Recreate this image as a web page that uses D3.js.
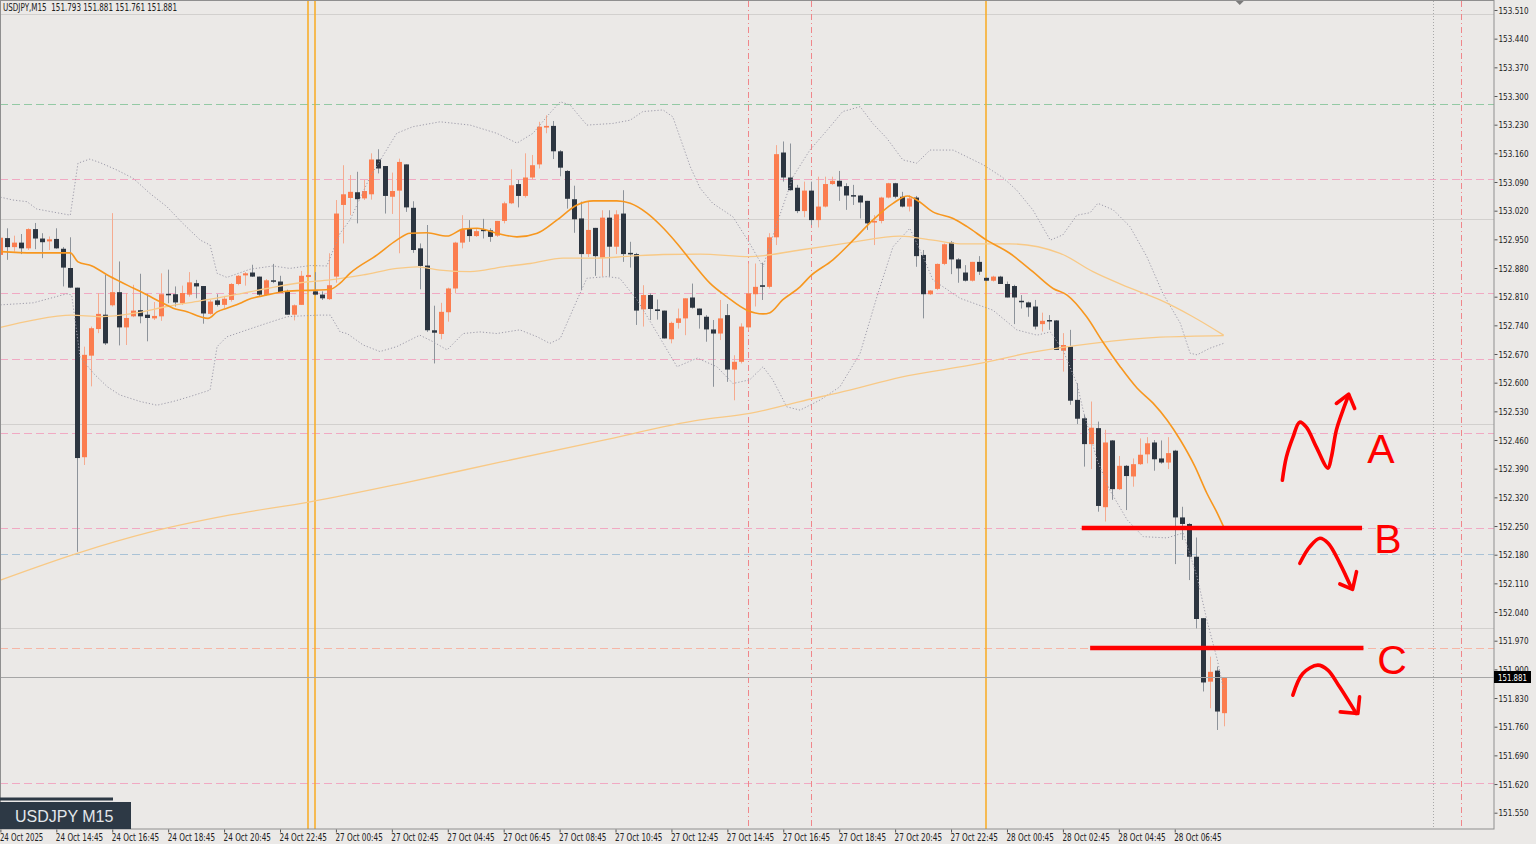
<!DOCTYPE html>
<html>
<head>
<meta charset="utf-8">
<script src="https://cdn.jsdelivr.net/npm/d3@7"></script>
<style>
  body { margin: 0; background: #ebe9e7; overflow: hidden; }
  text { font-family: "Liberation Sans Narrow", "DejaVu Sans Condensed", "Roboto Condensed", sans-serif; }
</style>
</head>
<body>
<div id="chart"></div>
<script>
// ---- data (bar 0 = 24 Oct 12:45) ----
var opens = [152.912,152.953,152.931,152.942,152.928,152.975,152.952,152.945,152.951,152.927,
152.880,152.832,152.418,152.666,152.731,152.766,152.789,152.821,152.735,152.762,
152.777,152.766,152.757,152.762,152.817,152.816,152.794,152.815,152.843,152.836,
152.768,152.801,152.790,152.802,152.841,152.862,152.869,152.859,152.814,152.850,
152.847,152.823,152.766,152.790,152.858,152.823,152.815,152.804,152.859,153.034,
153.051,153.065,153.050,153.060,153.145,153.129,153.054,153.069,153.133,153.027,
152.928,152.886,152.728,152.719,152.772,152.830,152.942,152.975,152.958,152.974,
152.972,152.959,152.995,153.038,153.085,153.056,153.101,153.133,153.223,153.227,
153.165,153.117,153.048,153.001,152.914,152.978,152.905,153.003,152.932,153.013,
152.917,152.914,152.779,152.814,152.779,152.776,152.706,152.746,152.757,152.808,
152.781,152.761,152.730,152.720,152.765,152.632,152.651,152.735,152.816,152.838,
152.834,152.955,153.162,153.101,153.076,153.019,153.069,152.997,153.030,153.085,
153.093,153.080,153.058,153.057,153.044,152.991,152.995,153.052,153.087,153.054,
153.030,153.052,152.912,152.816,152.829,152.890,152.942,152.901,152.869,152.849,
152.895,152.856,152.849,152.859,152.841,152.836,152.800,152.796,152.786,152.743,
152.753,152.752,152.678,152.688,152.558,152.513,152.450,152.489,152.296,152.459,
152.340,152.397,152.371,152.401,152.425,152.454,152.415,152.405,152.434,152.271,
152.255,152.175,152.025,151.870,151.897,151.793];

var highs = [152.957,152.977,152.959,152.963,152.977,152.990,152.965,152.957,152.977,152.931,
152.955,152.832,152.688,152.737,152.819,152.863,153.014,152.896,152.819,152.839,
152.866,152.817,152.797,152.867,152.876,152.835,152.837,152.870,152.851,152.836,
152.802,152.816,152.812,152.843,152.863,152.870,152.888,152.859,152.853,152.890,
152.861,152.827,152.791,152.873,152.867,152.870,152.823,152.916,153.046,153.131,
153.107,153.115,153.095,153.160,153.170,153.129,153.113,153.147,153.133,153.043,
152.940,152.985,152.788,152.795,152.832,152.944,153.009,152.997,152.977,153.000,
152.977,152.995,153.042,153.121,153.095,153.160,153.156,153.237,153.253,153.239,
153.168,153.119,153.081,153.042,153.042,152.978,153.021,153.021,153.021,153.070,
152.944,152.917,152.838,152.818,152.803,152.776,152.749,152.781,152.806,152.842,
152.781,152.765,152.753,152.802,152.792,152.667,152.745,152.891,152.891,152.893,
152.965,153.180,153.189,153.184,153.083,153.091,153.091,153.103,153.103,153.103,
153.117,153.087,153.083,153.058,153.044,153.009,153.054,153.088,153.088,153.066,
153.058,153.056,152.924,152.826,152.891,152.940,152.946,152.904,152.887,152.895,
152.909,152.857,152.861,152.861,152.847,152.839,152.814,152.798,152.802,152.771,
152.765,152.753,152.721,152.729,152.599,152.521,152.554,152.505,152.485,152.460,
152.421,152.399,152.415,152.464,152.467,152.460,152.459,152.467,152.436,152.297,
152.257,152.222,152.025,151.931,151.907,151.881];

var lows = [152.908,152.900,152.920,152.914,152.924,152.926,152.904,152.924,152.927,152.835,
152.831,152.187,152.399,152.591,152.721,152.692,152.786,152.691,152.692,152.760,
152.745,152.701,152.753,152.751,152.794,152.786,152.790,152.810,152.806,152.744,
152.766,152.786,152.782,152.798,152.838,152.837,152.858,152.810,152.812,152.843,
152.819,152.766,152.752,152.790,152.858,152.813,152.802,152.802,152.844,152.940,
153.009,152.989,153.046,153.047,153.111,153.013,153.012,152.916,153.017,152.917,
152.828,152.724,152.647,152.706,152.749,152.818,152.928,152.944,152.956,152.952,
152.944,152.956,152.989,153.036,153.028,153.052,153.096,153.123,153.209,153.146,
153.104,153.025,152.966,152.826,152.907,152.861,152.859,152.859,152.914,152.895,
152.881,152.741,152.737,152.753,152.754,152.708,152.696,152.732,152.716,152.781,
152.732,152.700,152.590,152.704,152.602,152.557,152.647,152.729,152.786,152.802,
152.830,152.936,153.091,153.069,153.014,153.004,152.985,152.979,153.028,153.083,
153.044,153.022,153.034,153.001,152.973,152.936,152.989,153.050,153.050,153.028,
153.018,152.883,152.757,152.814,152.826,152.887,152.865,152.844,152.847,152.847,
152.863,152.848,152.847,152.841,152.808,152.743,152.781,152.761,152.730,152.725,
152.729,152.680,152.627,152.546,152.499,152.395,152.389,152.285,152.261,152.314,
152.338,152.289,152.346,152.399,152.403,152.385,152.402,152.389,152.157,152.216,
152.118,152.000,151.846,151.805,151.752,151.761];

var closes = [152.954,152.931,152.942,152.928,152.975,152.952,152.943,152.950,152.928,152.881,
152.832,152.416,152.668,152.733,152.768,152.696,152.821,152.735,152.758,152.776,
152.762,152.758,152.763,152.816,152.815,152.796,152.819,152.845,152.835,152.769,
152.798,152.790,152.805,152.841,152.861,152.867,152.859,152.815,152.850,152.847,
152.820,152.766,152.789,152.861,152.863,152.815,152.806,152.838,153.013,153.060,
153.066,153.048,153.068,153.145,153.123,153.056,153.068,153.139,153.028,152.924,
152.885,152.728,152.722,152.773,152.830,152.942,152.973,152.958,152.970,152.970,
152.956,152.995,153.038,153.082,153.056,153.101,153.131,153.225,153.227,153.165,
153.125,153.049,152.999,152.914,152.973,152.909,153.003,152.932,153.011,152.914,
152.915,152.776,152.814,152.780,152.775,152.708,152.746,152.757,152.806,152.783,
152.765,152.730,152.720,152.757,152.632,152.651,152.737,152.818,152.834,152.834,
152.955,153.158,153.101,153.070,153.019,153.069,152.997,153.030,153.085,153.093,
153.079,153.057,153.057,153.040,152.989,152.995,153.052,153.087,153.054,153.030,
153.050,152.909,152.816,152.825,152.890,152.938,152.901,152.879,152.849,152.895,
152.871,152.849,152.859,152.841,152.808,152.808,152.798,152.784,152.737,152.751,
152.751,152.680,152.692,152.556,152.512,152.450,152.490,152.299,152.454,152.340,
152.397,152.372,152.401,152.424,152.452,152.413,152.405,152.428,152.271,152.255,
152.175,152.023,151.868,151.894,151.797,151.881];

// indicator lines, [bar, price]
var ma20 = [[0,152.920],[4.7,152.917],[9,152.917],[10,152.917],[11.1,152.895],[13.1,152.885],[15.3,152.863],
  [17.1,152.847],[19,152.831],[21,152.814],[22.8,152.798],[24.7,152.782],[26.7,152.773],[28.6,152.761],
  [29.7,152.757],[31,152.773],[32.4,152.782],[34.3,152.794],[35.3,152.802],[38.1,152.814],[40.4,152.822],
  [42.9,152.825],[45.3,152.826],[47.2,152.828],[48.6,152.843],[50,152.867],[53.9,152.912],[56.7,152.948],
  [58.6,152.965],[61,152.966],[63.9,152.958],[66.2,152.975],[68.2,152.977],[71,152.965],[73.9,152.956],
  [76.8,152.965],[79.6,152.997],[82.5,153.034],[84.8,153.044],[88.2,153.044],[90.1,153.038],[92.5,153.014],
  [94.4,152.985],[96.8,152.940],[99.1,152.891],[101.5,152.843],[103.9,152.810],[106.8,152.777],[109.1,152.768],
  [110.1,152.771],[111.9,152.802],[114.4,152.834],[115.8,152.859],[119.1,152.900],[122,152.948],[124.8,152.997],
  [127.7,153.038],[129.8,153.056],[131.1,153.046],[133.4,153.017],[136.3,153.001],[138.3,152.981],[141.1,152.948],
  [144.4,152.916],[147.7,152.871],[150.6,152.830],[152.6,152.814],[155.4,152.761],[157.7,152.700],[160.2,152.639],
  [162.6,152.587],[164.9,152.550],[166.9,152.509],[168.8,152.460],[170.9,152.395],[172.6,152.330],[174.1,152.281],
  [175,152.248]];

var ma50 = [[0,152.735],[4.7,152.753],[10.2,152.765],[14.3,152.761],[19,152.769],[23.8,152.786],[28.6,152.800],
  [33.3,152.814],[38.1,152.830],[42.9,152.844],[47.2,152.851],[51.9,152.863],[56.7,152.879],[59.6,152.883],
  [62.9,152.875],[67.2,152.871],[71.9,152.883],[75.8,152.891],[80.5,152.904],[85.4,152.904],[90.1,152.909],
  [94.8,152.913],[100.1,152.914],[107.2,152.908],[114.4,152.924],[121.5,152.942],[128.7,152.958],[133.4,152.948],
  [137.3,152.939],[144.4,152.939],[151.6,152.916],[156.3,152.871],[161.2,152.834],[165.9,152.802],[170.6,152.761],
  [175,152.716]];

var ma200 = [[0,152.118],[11.1,152.184],[21.4,152.235],[32.9,152.277],[44.3,152.309],[57.2,152.353],[71.5,152.406],
  [85.8,152.458],[100.1,152.509],[107.2,152.525],[114.4,152.554],[121.5,152.582],[128.7,152.613],[140.1,152.647],
  [146.9,152.672],[156.3,152.696],[165.9,152.711],[175,152.715]];

var bbUpper = [[0,153.053],[1.8,153.046],[3.8,153.042],[5.2,153.024],[10,153.009],[11.1,153.136],[12.8,153.146],
  [14.3,153.137],[16.7,153.119],[19,153.099],[21.4,153.062],[23.8,153.030],[26.1,152.989],[28.6,152.948],
  [30,152.936],[31,152.867],[32.4,152.857],[35.7,152.877],[39,152.885],[41.4,152.879],[44.3,152.886],
  [46.7,152.885],[48.6,152.965],[50,152.997],[52.9,153.103],[56.7,153.209],[59,153.225],[62.9,153.237],
  [67.2,153.229],[71,153.209],[73.9,153.185],[76.2,153.209],[78.6,153.258],[80.1,153.286],[81.5,153.278],
  [83.9,153.229],[87.6,153.233],[90.1,153.241],[91.9,153.262],[94.8,153.266],[96.2,153.249],[98.7,153.127],
  [100.1,153.075],[101.9,153.038],[104.8,153.005],[107.2,152.940],[109.1,152.883],[111.1,152.989],[113.4,153.103],
  [115.8,153.168],[118.3,153.217],[120.5,153.262],[123,153.274],[124.8,153.233],[126.8,153.197],[129.1,153.144],
  [131.1,153.136],[133,153.168],[136.3,153.168],[140.6,153.132],[143.4,153.101],[145.4,153.070],[147.7,153.022],
  [150.2,152.948],[152,152.961],[154,153.009],[155.9,153.015],[157,153.038],[159.2,153.022],[161.6,152.981],
  [164,152.908],[166.3,152.818],[168.8,152.745],[170.2,152.672],[171.2,152.668],[173,152.684],[175,152.696]];

var bbLower = [[0,152.790],[4.7,152.795],[9.5,152.817],[10.2,152.814],[11.4,152.663],[13.3,152.623],[15.3,152.590],
  [17.1,152.570],[20,152.554],[22.4,152.545],[24.7,152.554],[27.1,152.566],[30,152.582],[31,152.688],
  [32.4,152.712],[35.3,152.729],[38.1,152.745],[41,152.761],[42.9,152.763],[45.7,152.765],[47.2,152.765],
  [48.6,152.724],[49.6,152.720],[51.9,152.692],[54.3,152.676],[56.7,152.688],[60,152.716],[61.9,152.700],
  [63.9,152.680],[66.2,152.720],[68.6,152.724],[71,152.720],[74.3,152.729],[76.8,152.712],[78.6,152.696],
  [80.1,152.708],[82.5,152.802],[83.9,152.855],[86.8,152.859],[88.6,152.855],[91.1,152.802],[93.4,152.737],
  [96.8,152.639],[99.7,152.660],[102.5,152.639],[104.8,152.598],[107.2,152.607],[109.1,152.639],[110.5,152.607],
  [112.5,152.541],[114.4,152.533],[117.3,152.558],[120.1,152.590],[123,152.672],[125.4,152.810],[127.7,152.932],
  [130.1,152.977],[132,152.908],[133.4,152.851],[137.3,152.806],[142,152.777],[145.4,152.729],[148.3,152.716],
  [150.2,152.724],[152,152.680],[154,152.598],[154.9,152.533],[156.9,152.411],[158.7,152.338],[161.2,152.265],
  [163.5,152.224],[166.9,152.221],[169.2,152.233],[171.2,152.126],[172.6,152.020],[174.1,151.923],[175,151.850]];

// axis labels
var priceTicks = [153.510,153.440,153.370,153.300,153.230,153.160,153.090,153.020,152.950,152.880,
  152.810,152.740,152.670,152.600,152.530,152.460,152.390,152.320,152.250,152.180,152.110,152.040,
  151.970,151.900,151.830,151.760,151.690,151.620,151.550];
var timeTickBars = [0,8,16,24,32,40,48,56,64,72,80,88,96,104,112,120,128,136,144,152,160,168];
var timeLabels = ["24 Oct 2025","24 Oct 14:45","24 Oct 16:45","24 Oct 18:45","24 Oct 20:45","24 Oct 22:45",
  "27 Oct 00:45","27 Oct 02:45","27 Oct 04:45","27 Oct 06:45","27 Oct 08:45","27 Oct 10:45","27 Oct 12:45",
  "27 Oct 14:45","27 Oct 16:45","27 Oct 18:45","27 Oct 20:45","27 Oct 22:45","28 Oct 00:45","28 Oct 02:45",
  "28 Oct 04:45","28 Oct 06:45"];

// horizontal levels and vertical markers
var roundLevels = [153.50, 153.00, 152.50, 152.00];
var levelPrices = [153.280, 153.097, 152.818, 152.657, 152.477, 152.244, 152.181, 151.952, 151.622];
var levelKinds  = ["green", "pink", "pink", "pink", "pink", "pink", "blue", "salmon", "pink"];
var daySepBars = [44, 45, 141];
var redMarkBars = [107, 116, 209];
var grayMarkBars = [205];
var lastPrice = 151.881;
var headerText = "USDJPY,M15  151.793 151.881 151.761 151.881";

// hand drawn scenario lines A / B / C
var scenarioLevels = [152.245, 151.952];
var scenarioFrom = [154.7, 155.9];
var scenarioTo = [194.8, 195.0];

var W = 1536, H = 844;
var plotRight = 1494, plotBottom = 829;
var barStep = 6.99;

var x = d3.scaleLinear().domain([0, 175]).range([0.4, 0.4 + 175 * barStep]);
var y = d3.scaleLinear().domain([153.51, 151.55]).range([10, 812.7]);

var levelColor = {green: "#93c9a4", pink: "#f1a9c3", blue: "#a9c2d6", salmon: "#f6b6a6"};

var svg = d3.select("#chart")
  .append("svg")
    .attr("width", W)
    .attr("height", H);

svg.append("rect")
  .attr("width", W).attr("height", H)
  .attr("fill", "#ebe9e7");

svg.append("clipPath").attr("id", "plotClip")
  .append("rect")
    .attr("x", 0).attr("y", 1)
    .attr("width", plotRight).attr("height", plotBottom - 1);

var g = svg.append("g").attr("clip-path", "url(#plotClip)");

// round number lines
g.selectAll(".round")
  .data(roundLevels)
  .enter().append("line")
    .attr("x1", 0).attr("x2", plotRight)
    .attr("y1", function(d) { return Math.round(y(d)) + 0.5; })
    .attr("y2", function(d) { return Math.round(y(d)) + 0.5; })
    .attr("stroke", "#d2d0ce")
    .attr("stroke-width", 1);

// dashed levels
g.selectAll(".level")
  .data(levelPrices)
  .enter().append("line")
    .attr("x1", 0).attr("x2", plotRight)
    .attr("y1", function(d) { return Math.round(y(d)) + 0.5; })
    .attr("y2", function(d) { return Math.round(y(d)) + 0.5; })
    .attr("stroke", function(d, i) { return levelColor[levelKinds[i]]; })
    .attr("stroke-dasharray", "8,4")
    .attr("stroke-width", 1);

// vertical markers
g.selectAll(".redmark")
  .data(redMarkBars)
  .enter().append("line")
    .attr("x1", function(d) { return Math.round(x(d)) + 0.5; })
    .attr("x2", function(d) { return Math.round(x(d)) + 0.5; })
    .attr("y1", 1).attr("y2", plotBottom)
    .attr("stroke", "#f0868a")
    .attr("stroke-dasharray", "6,3,1,3")
    .attr("stroke-width", 1);

g.selectAll(".graymark")
  .data(grayMarkBars)
  .enter().append("line")
    .attr("x1", function(d) { return Math.round(x(d)) + 0.5; })
    .attr("x2", function(d) { return Math.round(x(d)) + 0.5; })
    .attr("y1", 1).attr("y2", plotBottom)
    .attr("stroke", "#a8a8a8")
    .attr("stroke-dasharray", "1,2")
    .attr("stroke-width", 1);

g.selectAll(".daysep")
  .data(daySepBars)
  .enter().append("line")
    .attr("x1", function(d) { return Math.round(x(d)); })
    .attr("x2", function(d) { return Math.round(x(d)); })
    .attr("y1", 1).attr("y2", plotBottom)
    .attr("stroke", "#f8ae2e")
    .attr("stroke-width", 1.6);

// candles
var bars = d3.range(opens.length);
var bodyW = 5;

g.selectAll(".wick")
  .data(bars)
  .enter().append("line")
    .attr("x1", function(i) { return Math.round(x(i)) + 0.5; })
    .attr("x2", function(i) { return Math.round(x(i)) + 0.5; })
    .attr("y1", function(i) { return y(highs[i]); })
    .attr("y2", function(i) { return y(lows[i]); })
    .attr("stroke", function(i) { return closes[i] >= opens[i] ? "#f5ab90" : "#8d939a"; })
    .attr("stroke-width", 1);

g.selectAll(".body")
  .data(bars)
  .enter().append("rect")
    .attr("x", function(i) { return Math.round(x(i)) + 0.5 - bodyW / 2; })
    .attr("y", function(i) { return y(Math.max(opens[i], closes[i])); })
    .attr("width", bodyW)
    .attr("height", function(i) { return Math.max(1.5, Math.abs(y(opens[i]) - y(closes[i]))); })
    .attr("fill", function(i) { return closes[i] >= opens[i] ? "#fb7d4f" : "#2c3540"; });

// indicators
var lineGen = d3.line()
  .x(function(d) { return x(d[0]); })
  .y(function(d) { return y(d[1]); });

var smoothGen = d3.line()
  .curve(d3.curveMonotoneX)
  .x(function(d) { return x(d[0]); })
  .y(function(d) { return y(d[1]); });

[bbUpper, bbLower].forEach(function(band) {
  g.append("path")
    .datum(band)
    .attr("d", lineGen)
    .attr("fill", "none")
    .attr("stroke", "#9e9caa")
    .attr("stroke-dasharray", "1.2,2")
    .attr("stroke-width", 1);
});

[ma200, ma50].forEach(function(ma) {
  g.append("path")
    .datum(ma)
    .attr("d", smoothGen)
    .attr("fill", "none")
    .attr("stroke", "#f8c986")
    .attr("stroke-width", 1.3);
});

g.append("path")
  .datum(ma20)
  .attr("d", smoothGen)
  .attr("fill", "none")
  .attr("stroke", "#f7971f")
  .attr("stroke-width", 1.6);

// last price line
g.append("line")
  .attr("x1", 0).attr("x2", plotRight)
  .attr("y1", Math.round(y(lastPrice)) + 0.5)
  .attr("y2", Math.round(y(lastPrice)) + 0.5)
  .attr("stroke", "#a6a6a6")
  .attr("stroke-width", 1);

// hand drawn annotations
var red = "#ff0000";
g.selectAll(".scenario")
  .data(scenarioLevels)
  .enter().append("line")
    .attr("x1", function(d, i) { return x(scenarioFrom[i]); })
    .attr("x2", function(d, i) { return x(scenarioTo[i]); })
    .attr("y1", function(d) { return y(d); })
    .attr("y2", function(d) { return y(d); })
    .attr("stroke", red)
    .attr("stroke-width", 4.5);

// strokes are pixel offsets around an anchor (bar, price)
var strokes = [
  {bar: 183.4, price: 152.362, pts: [[0,0],[4,-23],[10.6,-43],[17.3,-58],[24,-53],[34,-33],[45.6,-12],[49,-23],[54,-50],[60.6,-70],[66.3,-85]]},
  {bar: 183.4, price: 152.362, pts: [[54,-76.7],[66.3,-86],[72.3,-71.7]], straight: true},
  {bar: 185.9, price: 152.159, pts: [[0,0],[10,-16.6],[20,-25],[28.3,-20],[40,0],[51.7,25]]},
  {bar: 185.9, price: 152.159, pts: [[40,20.7],[52.7,26],[56.7,8.4]], straight: true},
  {bar: 184.9, price: 151.837, pts: [[0,0],[10,-21.7],[25,-30],[35,-25],[46.7,-8.3],[63.4,18.3]]},
  {bar: 184.9, price: 151.837, pts: [[47.4,16.7],[65,18.3],[66.7,1.7]], straight: true}
];

strokes.forEach(function(s) {
  var ox = x(s.bar), oy = y(s.price);
  var gen = d3.line()
    .curve(s.straight ? d3.curveLinear : d3.curveCatmullRom)
    .x(function(p) { return ox + p[0]; })
    .y(function(p) { return oy + p[1]; });
  g.append("path")
    .attr("d", gen(s.pts))
    .attr("fill", "none")
    .attr("stroke", red)
    .attr("stroke-width", 3.6)
    .attr("stroke-linecap", "round")
    .attr("stroke-linejoin", "round");
});

var letters = [
  {t: "A", bar: 197.5, price: 152.404},
  {t: "B", bar: 198.5, price: 152.184},
  {t: "C", bar: 199.1, price: 151.889}
];
g.selectAll(".letter")
  .data(letters)
  .enter().append("text")
    .attr("x", function(d) { return x(d.bar); })
    .attr("y", function(d) { return y(d.price); })
    .attr("text-anchor", "middle")
    .style("font-family", "'Liberation Sans', Arial, sans-serif")
    .style("font-size", "41px")
    .attr("fill", red)
    .text(function(d) { return d.t; });

// frame
svg.append("rect")
  .attr("x", 0.5).attr("y", 0.5)
  .attr("width", plotRight - 0.5).attr("height", plotBottom - 0.5)
  .attr("fill", "none")
  .attr("stroke", "#8f8f8f")
  .attr("stroke-width", 1);

// price axis
var yAxis = svg.append("g")
  .attr("transform", "translate(" + (plotRight + 0.5) + ",0)")
  .call(d3.axisRight(y).tickValues(priceTicks).tickFormat(d3.format(".3f")).tickSize(3).tickPadding(1));
yAxis.select(".domain").remove();
yAxis.selectAll("line").attr("stroke", "#555");
yAxis.selectAll("text")
  .style("font-size", "9.5px")
  .attr("textLength", 30)
  .attr("lengthAdjust", "spacingAndGlyphs")
  .attr("fill", "#222");

// time axis
var xAxis = svg.append("g")
  .attr("transform", "translate(0," + (plotBottom + 0.5) + ")")
  .call(d3.axisBottom(x).tickValues(timeTickBars).tickFormat(function(d, i) { return timeLabels[i]; }).tickSize(3).tickPadding(1));
xAxis.select(".domain").remove();
xAxis.selectAll("line").attr("stroke", "#555");
xAxis.selectAll("text")
  .attr("text-anchor", "start")
  .attr("dx", "-1")
  .style("font-size", "10.5px")
  .attr("textLength", function(d, i) { return timeLabels[i].length * 3.95; })
  .attr("lengthAdjust", "spacingAndGlyphs")
  .attr("fill", "#222");

// last price tag
var tagY = Math.round(y(lastPrice));
svg.append("rect")
  .attr("x", plotRight).attr("y", tagY - 6)
  .attr("width", 37).attr("height", 12)
  .attr("fill", "#000");
svg.append("text")
  .attr("x", plotRight + 4).attr("y", tagY + 3.5)
  .style("font-size", "9.5px")
  .attr("textLength", 29)
  .attr("lengthAdjust", "spacingAndGlyphs")
  .attr("fill", "#fff")
  .text(d3.format(".3f")(lastPrice));

// header
svg.append("text")
  .attr("x", 3).attr("y", 11)
  .style("font-size", "10.5px")
  .style("white-space", "pre")
  .attr("textLength", 174)
  .attr("lengthAdjust", "spacingAndGlyphs")
  .attr("fill", "#222")
  .text(headerText);

// chart shift marker
svg.append("path")
  .attr("d", "M" + (x(177.3) - 4) + ",1 L" + (x(177.3) + 4) + ",1 L" + x(177.3) + ",5 Z")
  .attr("fill", "#7a7a7a");

// symbol label
svg.append("rect")
  .attr("x", 0).attr("y", 797.5)
  .attr("width", 113).attr("height", 3)
  .attr("fill", "#2d3945");
svg.append("rect")
  .attr("x", 0).attr("y", 802)
  .attr("width", 131).attr("height", 27)
  .attr("fill", "#2d3945");
svg.append("text")
  .attr("x", 15).attr("y", 821.5)
  .style("font-family", "'Liberation Sans', Arial, sans-serif")
  .style("font-size", "16px")
  .attr("fill", "#e3e7eb")
  .text("USDJPY M15");
</script>
</body>
</html>
